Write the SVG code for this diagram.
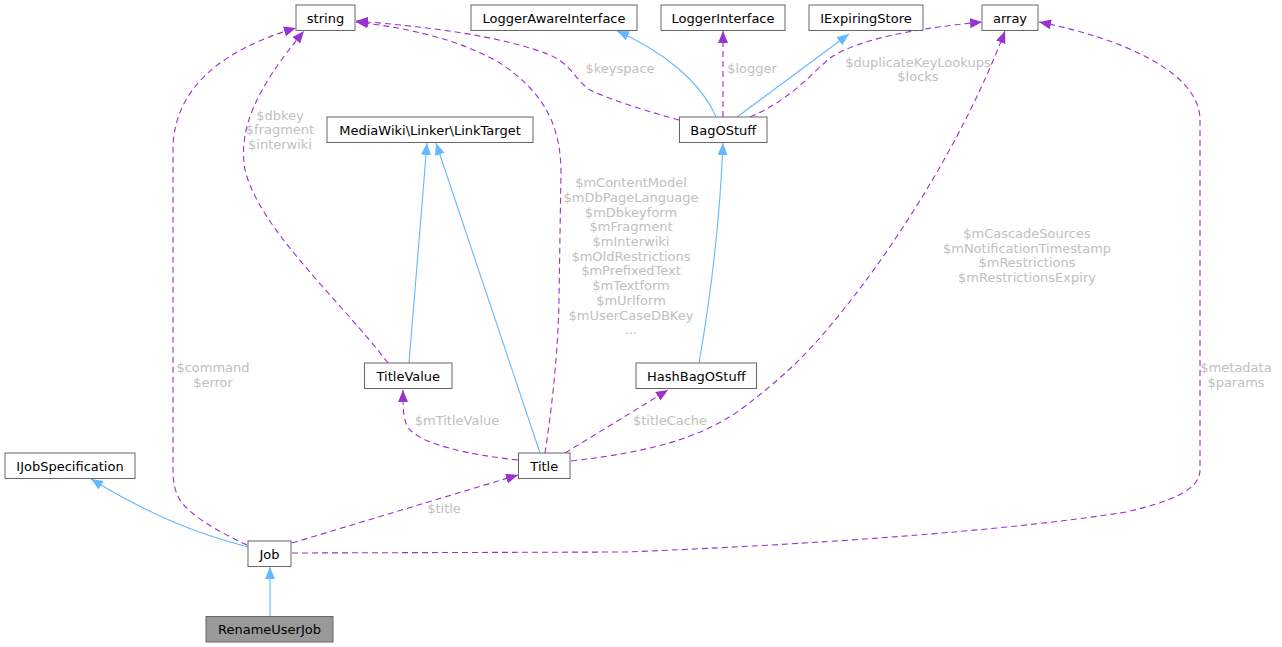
<svg xmlns="http://www.w3.org/2000/svg" width="1282" height="647" viewBox="0 0 1282 647">
<style>
.node rect{fill:#ffffff;stroke:#666666;stroke-width:1}
.node text{font-family:"DejaVu Sans",sans-serif;font-size:13px;fill:#000000;text-anchor:middle}
.inh{fill:none;stroke:#63b8ff;stroke-width:1.1;marker-end:url(#ab)}
.use{fill:none;stroke:#9a32cd;stroke-width:1.1;stroke-dasharray:6,4;marker-end:url(#ap)}
.lbl{font-family:"DejaVu Sans",sans-serif;font-size:13px;fill:#c0c0c0;text-anchor:middle}
</style>
<defs>
<marker id="ab" markerWidth="14" markerHeight="12" refX="12" refY="5" orient="auto" markerUnits="userSpaceOnUse"><path d="M0,0 L12,5 L0,10 z" fill="#63b8ff" stroke="none"/></marker>
<marker id="ap" markerWidth="14" markerHeight="12" refX="12" refY="5" orient="auto" markerUnits="userSpaceOnUse"><path d="M0,0 L12,5 L0,10 z" fill="#9a32cd" stroke="none"/></marker>
</defs>
<rect width="1282" height="647" fill="#ffffff"/>
<g id="connectors">
<path class="inh" d="M248,547 C 195,533 150,515 91,479"/>
<path class="inh" d="M270,616 L270,567"/>
<path class="use" d="M247,545 C 215,530 190,515 180,500 C 174,490 173,480 173,470 L173,150 C 173,90 220,50 296,28"/>
<path class="use" d="M292,543 L518,475"/>
<path class="use" d="M292,553 L626,552 C 800,545 1000,532 1126,512 C 1170,502 1200,490 1200,470 L1200,120 C 1200,75 1130,40 1039,22"/>
<path class="inh" d="M540,453 L436,143"/>
<path class="inh" d="M409,363 L427,143"/>
<path class="use" d="M388,363 C 340,300 260,230 245,170 C 238,130 255,90 304,31"/>
<path class="use" d="M518,460 C 470,455 425,445 410,430 C 403,422 403,410 403,390"/>
<path class="use" d="M545,453 C 550,420 558,360 559,300 L561,170 C 560,120 540,90 500,63 C 460,40 410,28 356,22"/>
<path class="use" d="M565,453 L668,390"/>
<path class="use" d="M571,461 C 650,452 700,438 740,410 C 780,380 800,360 818,340 C 880,270 960,150 1005,31"/>
<path class="inh" d="M699,363 C 710,300 720,220 723,143"/>
<path class="inh" d="M716,117 C 700,80 660,50 617,31"/>
<path class="use" d="M723,117 L723,31"/>
<path class="inh" d="M737,117 L849,34"/>
<path class="use" d="M750,117 C 790,100 810,75 830,58 C 860,38 920,28 982,22"/>
<path class="use" d="M679,120 C 650,112 610,100 590,90 C 575,80 572,65 550,55 C 500,35 420,26 356,21"/>
<text class="lbl" x="213" y="372">$command</text>
<text class="lbl" x="213" y="387">$error</text>
<text class="lbl" x="444" y="513">$title</text>
<text class="lbl" x="1236" y="372">$metadata</text>
<text class="lbl" x="1236" y="387">$params</text>
<text class="lbl" x="280" y="119.5">$dbkey</text>
<text class="lbl" x="280" y="134">$fragment</text>
<text class="lbl" x="280" y="148.5">$interwiki</text>
<text class="lbl" x="457" y="425">$mTitleValue</text>
<text class="lbl" x="670" y="425">$titleCache</text>
<text class="lbl" x="631" y="187.2">$mContentModel</text>
<text class="lbl" x="631" y="201.9">$mDbPageLanguage</text>
<text class="lbl" x="631" y="216.6">$mDbkeyform</text>
<text class="lbl" x="631" y="231.3">$mFragment</text>
<text class="lbl" x="631" y="246">$mInterwiki</text>
<text class="lbl" x="631" y="260.7">$mOldRestrictions</text>
<text class="lbl" x="631" y="275.4">$mPrefixedText</text>
<text class="lbl" x="631" y="290.1">$mTextform</text>
<text class="lbl" x="631" y="304.8">$mUrlform</text>
<text class="lbl" x="631" y="319.5">$mUserCaseDBKey</text>
<text class="lbl" x="631" y="334.2">...</text>
<text class="lbl" x="1027" y="237.8">$mCascadeSources</text>
<text class="lbl" x="1027" y="252.6">$mNotificationTimestamp</text>
<text class="lbl" x="1027" y="267.4">$mRestrictions</text>
<text class="lbl" x="1027" y="282.2">$mRestrictionsExpiry</text>
<text class="lbl" x="620" y="72.5">$keyspace</text>
<text class="lbl" x="752" y="72.5">$logger</text>
<text class="lbl" x="918" y="66.5">$duplicateKeyLookups</text>
<text class="lbl" x="918" y="80.5">$locks</text>
</g>
<g id="RenameUserJob" class="node"><rect x="206" y="616.5" width="127" height="25.5" style="fill:#999999"/><text x="269.5" y="634">RenameUserJob</text></g>
<g id="Job" class="node"><rect x="248" y="541" width="43" height="25.5"/><text x="269.5" y="558.5">Job</text></g>
<g id="IJobSpecification" class="node"><rect x="5" y="453" width="130" height="25.5"/><text x="70" y="470.5">IJobSpecification</text></g>
<g id="Title" class="node"><rect x="518.5" y="453" width="51.5" height="25.5"/><text x="544.3" y="470.5">Title</text></g>
<g id="TitleValue" class="node"><rect x="364.5" y="363" width="87.5" height="25.5"/><text x="408.3" y="380.5">TitleValue</text></g>
<g id="HashBagOStuff" class="node"><rect x="636" y="363" width="120.5" height="25.5"/><text x="696.3" y="380.5">HashBagOStuff</text></g>
<g id="LinkTarget" class="node"><rect x="327" y="117" width="206" height="25.5"/><text x="430" y="134.5">MediaWiki\Linker\LinkTarget</text></g>
<g id="BagOStuff" class="node"><rect x="679.5" y="117" width="87.5" height="25.5"/><text x="723.3" y="134.5">BagOStuff</text></g>
<g id="string" class="node"><rect x="296" y="5" width="59" height="25.5"/><text x="325.5" y="22.5">string</text></g>
<g id="LoggerAwareInterface" class="node"><rect x="471" y="5" width="166" height="25.5"/><text x="554" y="22.5">LoggerAwareInterface</text></g>
<g id="LoggerInterface" class="node"><rect x="661" y="5" width="124" height="25.5"/><text x="723" y="22.5">LoggerInterface</text></g>
<g id="IExpiringStore" class="node"><rect x="809" y="5" width="114" height="25.5"/><text x="866" y="22.5">IExpiringStore</text></g>
<g id="array" class="node"><rect x="982" y="5" width="56" height="25.5"/><text x="1010" y="22.5">array</text></g>
</svg>
